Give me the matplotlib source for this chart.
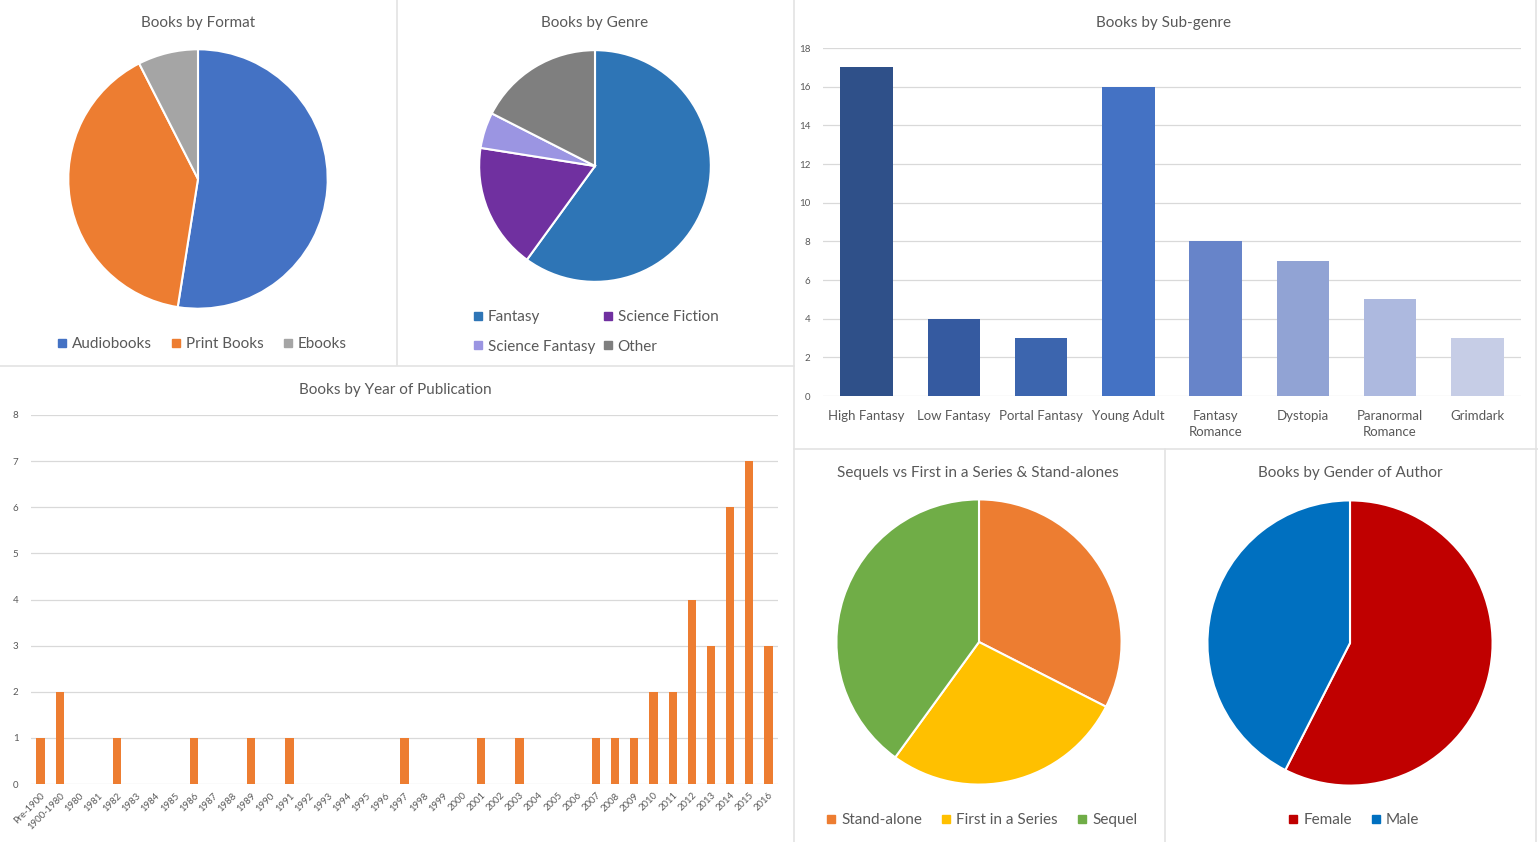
import matplotlib.pyplot as plt
from matplotlib.lines import Line2D

plt.rcParams['font.family'] = ['Lato', 'DejaVu Sans']

W, H = 1538, 842
TEXT = '#595959'
GRID = '#D9D9D9'

# Data
format_labels = ['Audiobooks', 'Print Books', 'Ebooks']
format_counts = [21, 16, 3]
format_colors = ['#4472C4', '#ED7D31', '#A5A5A5']

genre_labels = ['Fantasy', 'Science Fiction', 'Science Fantasy', 'Other']
genre_counts = [24, 7, 2, 7]
genre_colors = ['#2E75B6', '#7030A0', '#9B95E2', '#7F7F7F']

series_labels = ['Stand-alone', 'First in a Series', 'Sequel']
series_counts = [13, 11, 16]
series_colors = ['#ED7D31', '#FFC000', '#70AD47']

gender_labels = ['Female', 'Male']
gender_counts = [23, 17]
gender_colors = ['#C00000', '#0070C0']

subgenres = ['High Fantasy', 'Low Fantasy', 'Portal Fantasy', 'Young Adult',
             'Fantasy\nRomance', 'Dystopia', 'Paranormal\nRomance', 'Grimdark']
subgenre_counts = [17, 4, 3, 16, 8, 7, 5, 3]
subgenre_colors = ['#2F5089', '#355AA0', '#3C65AE', '#4472C4',
                   '#6784C9', '#91A3D4', '#ADB9DF', '#C6CDE6']

years = ['Pre-1900', '1900-1980'] + [str(y) for y in range(1980, 2017)]
year_counts = [1, 2, 0, 0, 1, 0, 0, 0, 1, 0, 0, 1, 0, 1, 0, 0, 0, 0, 0, 1,
               0, 0, 0, 1, 0, 1, 0, 0, 0, 1, 1, 1, 2, 2, 4, 3, 6, 7, 3]

fig = plt.figure(figsize=(W / 100, H / 100), dpi=100)


def px_axes(x0, y0, x1, y1):
    # box in pixels, measured from the top-left corner
    return fig.add_axes([x0 / W, 1 - y1 / H, (x1 - x0) / W, (y1 - y0) / H])


def draw_pie(cx, cy, r, values, colors):
    ax = px_axes(cx - r, cy - r, cx + r, cy + r)
    ax.pie(values, colors=colors, startangle=90, counterclock=False, radius=1,
           wedgeprops=dict(edgecolor='white', linewidth=1.5))
    ax.set_xlim(-1.01, 1.01)
    ax.set_ylim(-1.01, 1.01)
    ax.set_aspect('equal')
    ax.axis('off')


def draw_legend(labels, colors, cx, cy, ncol, colspace=1.3):
    handles = [Line2D([], [], marker='s', linestyle='', markersize=6, color=c) for c in colors]
    fig.legend(handles, labels, loc='center', bbox_to_anchor=(cx / W, 1 - cy / H),
               ncol=ncol, frameon=False, fontsize=11, labelcolor=TEXT,
               handlelength=0.6, handletextpad=0.35, columnspacing=colspace,
               labelspacing=1.0)


def title(text, x, y):
    fig.text(x / W, 1 - y / H, text, ha='center', va='center', fontsize=11, color=TEXT)


def style_bar_axes(ax):
    ax.grid(axis='y', color=GRID, linewidth=0.9)
    ax.set_axisbelow(True)
    for spine in ax.spines.values():
        spine.set_visible(False)
    ax.tick_params(length=0, colors=TEXT)


# Books by Format
title('Books by Format', 198, 23)
draw_pie(198, 179, 131, format_counts, format_colors)
draw_legend(format_labels, format_colors, 202, 344, 3)

# Books by Genre
title('Books by Genre', 595, 23)
draw_pie(595, 166, 117, genre_counts, genre_colors)
order = [0, 2, 1, 3]
draw_legend([genre_labels[i] for i in order], [genre_colors[i] for i in order],
            596, 332, 2, colspace=0.5)

# Books by Sub-genre
title('Books by Sub-genre', 1164, 23)
ax = px_axes(823, 48, 1521, 396)
ax.bar(range(len(subgenres)), subgenre_counts, width=0.6, color=subgenre_colors)
ax.set_xlim(-0.5, len(subgenres) - 0.5)
ax.set_ylim(0, 18)
ax.set_yticks(range(0, 19, 2))
ax.set_xticks(range(len(subgenres)), subgenres, fontsize=9.5, linespacing=1.45)
ax.tick_params(axis='y', labelsize=7, pad=9)
style_bar_axes(ax)
ax.tick_params(axis='x', pad=10)

# Books by Year of Publication
title('Books by Year of Publication', 395, 390)
ax = px_axes(31, 415, 778, 784)
ax.bar(range(len(years)), year_counts, width=0.43, color='#ED7D31')
ax.set_xlim(-0.5, len(years) - 0.5)
ax.set_ylim(0, 8)
ax.set_yticks(range(9))
ax.set_xticks(range(len(years)), years, rotation=45, ha='right',
              rotation_mode='anchor', fontsize=6.8)
style_bar_axes(ax)
ax.tick_params(axis='y', labelsize=7, pad=9)
ax.tick_params(axis='x', pad=5)

# Sequels vs First in a Series & Stand-alones
title('Sequels vs First in a Series & Stand-alones', 978, 473)
draw_pie(979, 642, 144, series_counts, series_colors)
draw_legend(series_labels, series_colors, 982, 820, 3)

# Books by Gender of Author
title('Books by Gender of Author', 1350, 473)
draw_pie(1350, 643, 144, gender_counts, gender_colors)
draw_legend(gender_labels, gender_colors, 1354, 820, 2)

# Panel separators
separators = [((397, 0), (397, 365)), ((0, 366), (794, 366)), ((794, 0), (794, 842)),
              ((794, 449), (1538, 449)), ((1165, 449), (1165, 842)),
              ((1536, 0), (1536, 842))]
for (x0, y0), (x1, y1) in separators:
    fig.add_artist(Line2D([x0 / W, x1 / W], [1 - y0 / H, 1 - y1 / H],
                          color='#E3E3E3', linewidth=1.2))

fig.savefig('out.png', dpi=100)
